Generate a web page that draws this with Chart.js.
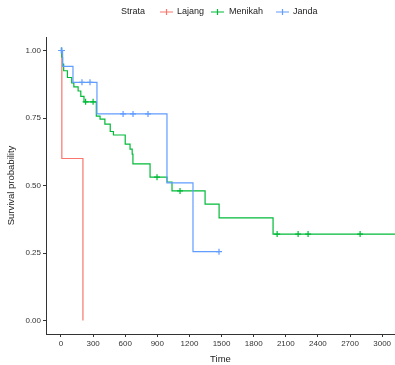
<!DOCTYPE html>
<html lang="en">
<head>
<meta charset="utf-8">
<title>Kaplan-Meier: Status</title>
<script src="https://cdn.jsdelivr.net/npm/chart.js"></script>
<style>
  body { margin: 0; background: #fff; overflow: hidden; }
  canvas { display: block; }
</style>
</head>
<body>
<canvas id="km" width="395" height="365"></canvas>
<script>
// strata
const groups = ["Lajang", "Menikah", "Janda"];
const colors = ["#F8766D", "#00BA38", "#619CFF"];

// step curves: time (days) and survival probability after each step
const lajangTime = [0, 8, 205];
const lajangSurv = [1.00, 0.60, 0.00];

const menikahTime = [0, 8, 15, 25, 60, 100, 120, 160, 185, 215, 330, 365, 410, 460, 490,
  600, 645, 665, 672, 832, 990, 1037, 1346, 1477, 1981, 3130];
const menikahSurv = [1.00, 0.975, 0.95, 0.925, 0.90, 0.88, 0.865, 0.85, 0.83, 0.81, 0.757, 0.746, 0.727, 0.70, 0.687,
  0.653, 0.635, 0.616, 0.58, 0.531, 0.513, 0.48, 0.431, 0.38, 0.32, 0.32];

const jandaTime = [0, 15, 112, 336, 990, 1233, 1476];
const jandaSurv = [1.00, 0.941, 0.882, 0.765, 0.51, 0.255, 0.255];

// censored observations (times only; y comes from the curve)
const lajangCens = [];
const menikahCens = [5, 230, 300, 897, 1112, 2019, 2215, 2308, 2794];
const jandaCens = [3, 8, 196, 271, 580, 673, 813, 1476];

// axis ticks
const xTicks = [0, 300, 600, 900, 1200, 1500, 1800, 2100, 2400, 2700, 3000];
const yTicks = [0, 0.25, 0.5, 0.75, 1];

function survAt(times, surv, t) {
  let s = surv[0];
  for (let i = 0; i < times.length; i++) {
    if (times[i] <= t) s = surv[i];
  }
  return s;
}

const curves = [
  { t: lajangTime, s: lajangSurv, c: lajangCens },
  { t: menikahTime, s: menikahSurv, c: menikahCens },
  { t: jandaTime, s: jandaSurv, c: jandaCens }
];

const datasets = [];
curves.forEach((cv, i) => {
  datasets.push({
    label: groups[i],
    data: cv.t.map((t, k) => ({ x: t, y: cv.s[k] })),
    borderColor: colors[i],
    borderWidth: 1.2,
    stepped: 'before',
    pointRadius: 0,
    fill: false,
    order: 10 - i
  });
  datasets.push({
    label: groups[i] + " (censor)",
    data: cv.c.map(t => ({ x: t, y: survAt(cv.t, cv.s, t) })),
    showLine: false,
    pointStyle: 'cross',
    pointRadius: 3,
    borderColor: colors[i],
    borderWidth: 1.2,
    order: 10 - i
  });
});

// ggplot-like legend across the top
const legendPlugin = {
  id: 'strataLegend',
  afterDraw(chart) {
    const ctx = chart.ctx;
    ctx.save();
    ctx.font = '9px "Liberation Sans", Arial, sans-serif';
    ctx.textBaseline = 'middle';
    ctx.fillStyle = '#222';
    const y = 12;
    ctx.fillText('Strata', 121, y);
    const items = [[160, 177], [211, 229], [276, 293]];
    items.forEach((it, i) => {
      ctx.strokeStyle = colors[i];
      ctx.lineWidth = 1.2;
      ctx.beginPath();
      ctx.moveTo(it[0], y); ctx.lineTo(it[0] + 13, y);
      const cx = it[0] + 6.5;
      ctx.moveTo(cx, y - 3); ctx.lineTo(cx, y + 3);
      ctx.stroke();
      ctx.fillStyle = '#222';
      ctx.fillText(groups[i], it[1], y);
    });
    ctx.restore();
  }
};

const tickFont = { family: '"Liberation Sans", Arial, sans-serif', size: 8 };
const titleFont = { family: '"Liberation Sans", Arial, sans-serif', size: 9.5 };

new Chart(document.getElementById('km'), {
  type: 'line',
  data: { datasets },
  options: {
    responsive: false,
    animation: false,
    devicePixelRatio: 1,
    layout: { autoPadding: false, padding: { top: 37, right: 0, left: 6, bottom: 0 } },
    plugins: { legend: { display: false }, tooltip: { enabled: false } },
    scales: {
      x: {
        type: 'linear',
        min: -140,
        max: 3120,
        afterBuildTicks: s => { s.ticks = xTicks.map(v => ({ value: v })); },
        afterFit: s => { s.height = 31; s.paddingLeft = 0; s.paddingRight = 0; },
        grid: { drawOnChartArea: false, drawTicks: true, tickLength: 3, color: '#333' },
        border: { display: true, color: '#333', width: 1 },
        ticks: { font: tickFont, color: '#333', padding: 2, maxRotation: 0, autoSkip: false, callback: v => String(v) },
        title: { display: true, text: 'Time', font: titleFont, color: '#222', padding: { top: 0, bottom: 0 } }
      },
      y: {
        type: 'linear',
        min: -0.05,
        max: 1.05,
        afterBuildTicks: s => { s.ticks = yTicks.map(v => ({ value: v })); },
        afterFit: s => { s.width = 40; s.paddingTop = 0; s.paddingBottom = 0; },
        grid: { drawOnChartArea: false, drawTicks: true, tickLength: 3, color: '#333' },
        border: { display: true, color: '#333', width: 1 },
        ticks: { font: tickFont, color: '#333', padding: 2, callback: v => v.toFixed(2) },
        title: { display: true, text: 'Survival probability', font: titleFont, color: '#222', padding: { top: 0, bottom: 2 } }
      }
    }
  },
  plugins: [legendPlugin]
});
</script>
</body>
</html>
